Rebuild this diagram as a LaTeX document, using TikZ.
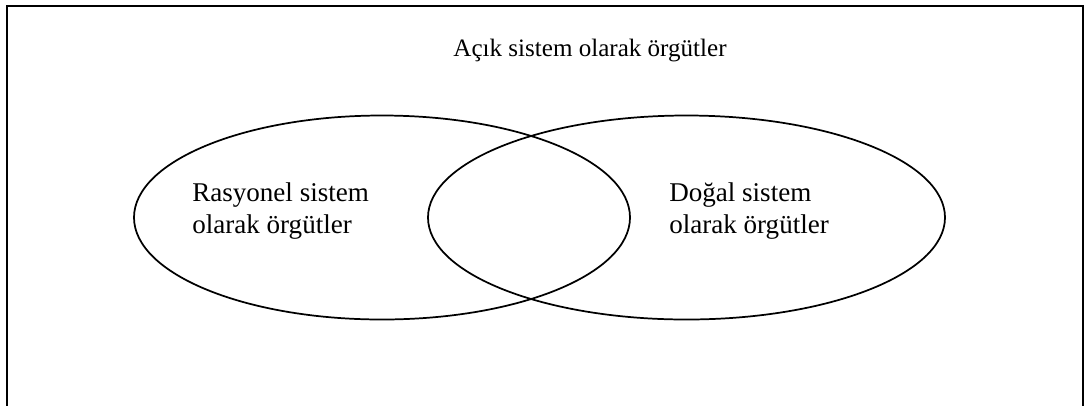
\documentclass[tikz,border=0pt]{standalone}
\usepackage{fontspec}
\setmainfont{Liberation Serif}
\usetikzlibrary{shapes.geometric}
\begin{document}
\begin{tikzpicture}[x=0.75pt,y=-0.75pt,
  frame/.style={draw=black,line width=1.6pt},
  setshape/.style={draw=black,line width=1.3pt,ellipse,inner sep=0pt,outer sep=0pt},
  title/.style={font=\fontsize{18.8}{23}\selectfont,inner sep=0pt},
  label/.style={font=\fontsize{20.3}{23.3}\selectfont,inner sep=0pt,align=left}]
  \useasboundingbox (0,0) rectangle (1089,405);
  % open frame: three sides, bottom left open
  \coordinate (bl) at (7,406);
  \coordinate (tl) at (7,6);
  \coordinate (tr) at (1083,6);
  \coordinate (br) at (1083,406);
  \draw[frame] (bl) -- (tl) -- (tr) -- (br);
  % the two overlapping systems
  \node[setshape,minimum width=372pt,minimum height=153pt] (rat) at (382,217.5) {};
  \node[setshape,minimum width=387.75pt,minimum height=153pt] (nat) at (686.5,217.5) {};
  % labels (anchored on the baseline of their last line)
  \node[title,anchor=base] (open) at (590,56) {Açık sistem olarak örgütler};
  \node[label,anchor=base west] (ratl) at (192,233) {Rasyonel sistem\\olarak örgütler};
  \node[label,anchor=base west] (natl) at (669,233) {Doğal sistem\\olarak örgütler};
\end{tikzpicture}
\end{document}
